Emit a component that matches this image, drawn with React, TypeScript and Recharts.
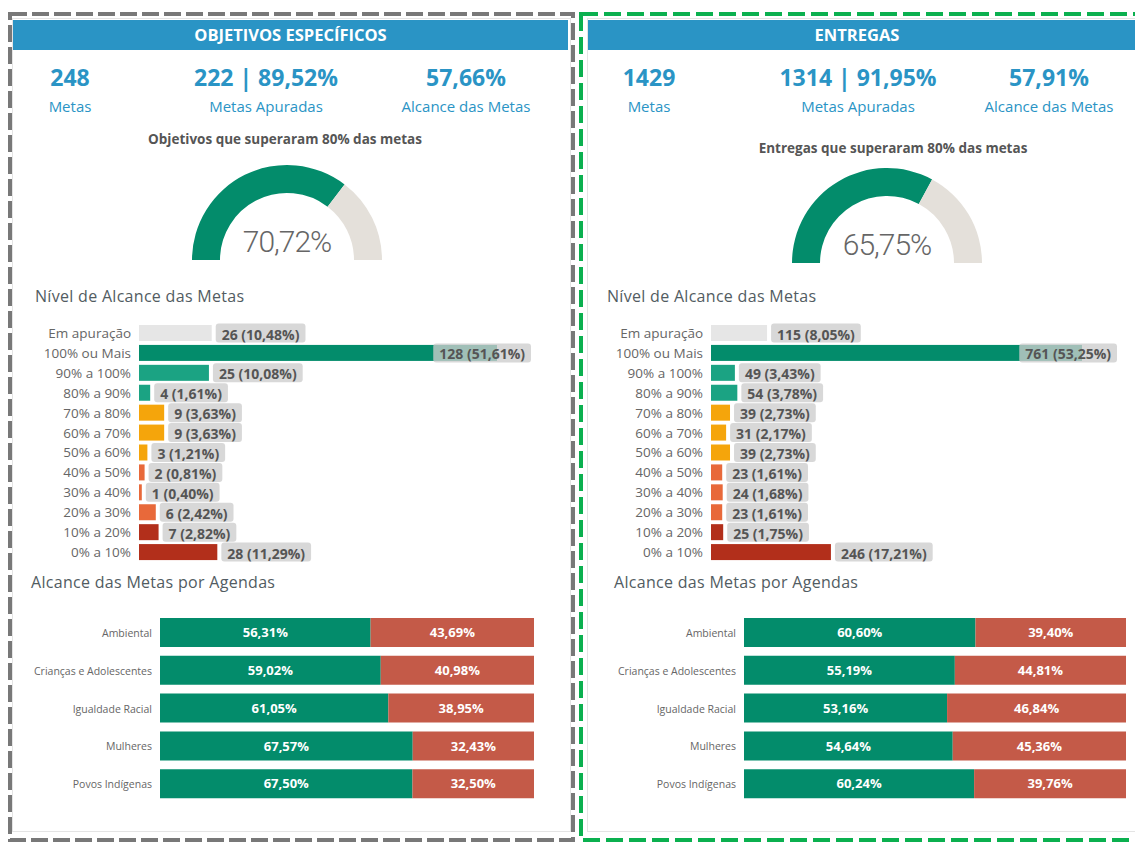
import React from 'react';
import { BarChart, Bar, XAxis, YAxis, Cell, PieChart, Pie, LabelList } from 'recharts';

// níveis de alcance (mesma ordem nos dois painéis)
const levelCategories = [
  'Em apuração', '100% ou Mais', '90% a 100%', '80% a 90%', '70% a 80%', '60% a 70%',
  '50% a 60%', '40% a 50%', '30% a 40%', '20% a 30%', '10% a 20%', '0% a 10%',
];
const levelColors = [
  '#E6E6E6', '#038C6B', '#1BA383', '#1BA383', '#F5A50B', '#F5A50B',
  '#F5A50B', '#E8693A', '#E8693A', '#E8693A', '#B22F1B', '#B22F1B',
];

const objetivosCounts = [26, 128, 25, 4, 9, 9, 3, 2, 1, 6, 7, 28];
const objetivosPct = [10.48, 51.61, 10.08, 1.61, 3.63, 3.63, 1.21, 0.81, 0.4, 2.42, 2.82, 11.29];
const entregasCounts = [115, 761, 49, 54, 39, 31, 39, 23, 24, 23, 25, 246];
const entregasPct = [8.05, 53.25, 3.43, 3.78, 2.73, 2.17, 2.73, 1.61, 1.68, 1.61, 1.75, 17.21];

const agendas = ['Ambiental', 'Crianças e Adolescentes', 'Igualdade Racial', 'Mulheres', 'Povos Indígenas'];
const objetivosAtingido = [56.31, 59.02, 61.05, 67.57, 67.5];
const objetivosNaoAtingido = [43.69, 40.98, 38.95, 32.43, 32.5];
const entregasAtingido = [60.6, 55.19, 53.16, 54.64, 60.24];
const entregasNaoAtingido = [39.4, 44.81, 46.84, 45.36, 39.76];

const objetivosKpi = { metas: 248, apuradas: 222, apuradasPct: 89.52, alcance: 57.66, acima80: 70.72 };
const entregasKpi = { metas: 1429, apuradas: 1314, apuradasPct: 91.95, alcance: 57.91, acima80: 65.75 };

const GREEN = '#038C6B';
const RED = '#C45A48';
const BLUE = '#2A94C5';
const FONT = '"Open Sans", "Noto Sans", sans-serif';
const LABEL_FONT = `700 14px ${FONT}`;

const fmt = (v: number) => v.toFixed(2).replace('.', ',');

let ctx: CanvasRenderingContext2D | null = null;
function textWidth(s: string, font: string) {
  if (!ctx) ctx = document.createElement('canvas').getContext('2d');
  if (!ctx) return s.length * 7.6;
  ctx.font = font;
  return ctx.measureText(s).width;
}

function LevelBar(props: any) {
  const { x, y, width, height, index, payload, limit } = props;
  const label = `${payload.count} (${fmt(payload.pct)}%)`;
  const bw = textWidth(label, LABEL_FONT) + 12;
  let bx = x + width + 4;
  if (bx + bw > limit) bx = limit - bw;
  const cy = y + height / 2;
  return (
    <g>
      <rect x={x} y={y} width={width} height={height} fill={levelColors[index]} />
      <rect x={bx} y={cy - 9.5} width={bw} height={19} rx={3} fill="rgba(205,205,205,0.78)" />
      <text x={bx + 6} y={cy + 1} dominantBaseline="central" fill="#555" style={{ font: LABEL_FONT }}>
        {label}
      </text>
    </g>
  );
}

function AxisTick({ x, y, payload, size }: any) {
  return (
    <text x={x} y={y} textAnchor="end" dominantBaseline="central" fontSize={size} fill="#666" fontFamily={FONT}>
      {payload.value}
    </text>
  );
}

type Layout = {
  cardX: number; cardW: number; headerX: number; headerW: number; headerPad: number;
  kpiX: number[]; gaugeTitleX: number; gaugeTitleY: number; gaugeX: number; gaugeY: number;
  levelTitleX: number; levelLeft: number; levelW: number; levelAxisW: number; levelRight: number;
  levelLimit: number; agendaTitleX: number; agendaLeft: number; agendaW: number;
  agendaAxisW: number; agendaRight: number;
};

const leftLayout: Layout = {
  cardX: 12, cardW: 557, headerX: 13, headerW: 555, headerPad: 0,
  kpiX: [70, 266, 466], gaugeTitleX: 285, gaugeTitleY: 139, gaugeX: 287, gaugeY: 260,
  levelTitleX: 35, levelLeft: 20, levelW: 520, levelAxisW: 119, levelRight: 43, levelLimit: 511,
  agendaTitleX: 31, agendaLeft: 20, agendaW: 520, agendaAxisW: 140, agendaRight: 6,
};
const rightLayout: Layout = {
  cardX: 587, cardW: 560, headerX: 588, headerW: 547, headerPad: 9,
  kpiX: [649, 858, 1049], gaugeTitleX: 893, gaugeTitleY: 148, gaugeX: 887, gaugeY: 263,
  levelTitleX: 607, levelLeft: 600, levelW: 520, levelAxisW: 111, levelRight: 38, levelLimit: 517,
  agendaTitleX: 614, agendaLeft: 600, agendaW: 530, agendaAxisW: 144, agendaRight: 4,
};

function Centered({ x, y, h, style, children }: any) {
  return (
    <div style={{ position: 'absolute', left: x - 150, top: y - h / 2, width: 300, height: h, lineHeight: `${h}px`, textAlign: 'center', whiteSpace: 'nowrap', ...style }}>
      {children}
    </div>
  );
}

function Panel({ title, gaugeTitle, kpi, counts, pcts, ok, notOk, L }: any) {
  const lay: Layout = L;
  const levelRows = levelCategories.map((name, i) => ({ name, count: counts[i], pct: pcts[i] }));
  const agendaRows = agendas.map((name, i) => ({ name, ok: ok[i], no: notOk[i] }));
  const maxCount = Math.max(...counts);
  const kpis = [
    { v: `${kpi.metas}`, l: 'Metas' },
    { v: `${kpi.apuradas} | ${fmt(kpi.apuradasPct)}%`, l: 'Metas Apuradas' },
    { v: `${fmt(kpi.alcance)}%`, l: 'Alcance das Metas' },
  ];
  const sectionTitle = { position: 'absolute' as const, fontSize: 16, color: '#525C62', letterSpacing: 0.3, whiteSpace: 'nowrap' as const };
  return (
    <>
      <div style={{ position: 'absolute', left: lay.cardX, top: 18, width: lay.cardW, height: 812, border: '1px solid #E4E4E4', background: '#fff' }} />
      <div style={{ position: 'absolute', left: lay.headerX, top: 20, width: lay.headerW - lay.headerPad, paddingRight: lay.headerPad, height: 30, lineHeight: '30px', background: BLUE, color: '#fff', fontWeight: 700, fontSize: 16.5, textAlign: 'center' }}>
        {title}
      </div>
      {kpis.map((k, i) => (
        <React.Fragment key={k.l}>
          <Centered x={lay.kpiX[i]} y={77} h={30} style={{ color: BLUE, fontWeight: 700, fontSize: 23 }}>{k.v}</Centered>
          <Centered x={lay.kpiX[i]} y={106} h={20} style={{ color: BLUE, fontSize: 15 }}>{k.l}</Centered>
        </React.Fragment>
      ))}
      <Centered x={lay.gaugeTitleX} y={lay.gaugeTitleY} h={18} style={{ color: '#555', fontWeight: 700, fontSize: 13.5 }}>{gaugeTitle}</Centered>
      <div style={{ position: 'absolute', left: lay.gaugeX - 110, top: lay.gaugeY - 100 }}>
        <PieChart width={220} height={102} margin={{ top: 0, right: 0, bottom: 0, left: 0 }}>
          <Pie data={[{ v: kpi.acima80 }, { v: 100 - kpi.acima80 }]} dataKey="v" cx={110} cy={100} startAngle={180} endAngle={0} innerRadius={67} outerRadius={95} stroke="none" isAnimationActive={false}>
            <Cell fill={GREEN} />
            <Cell fill="#E4E0DA" />
          </Pie>
        </PieChart>
      </div>
      <Centered x={lay.gaugeX} y={lay.gaugeY - 18} h={36} style={{ color: '#666', fontSize: 30, fontWeight: 300, fontFamily: 'Roboto, sans-serif', letterSpacing: -1 }}>
        {fmt(kpi.acima80)}%
      </Centered>

      <div style={{ ...sectionTitle, left: lay.levelTitleX, top: 285 }}>Nível de Alcance das Metas</div>
      <div style={{ position: 'absolute', left: lay.levelLeft, top: 323 }}>
        <BarChart layout="vertical" width={lay.levelW} height={239} data={levelRows} margin={{ top: 0, right: lay.levelRight, bottom: 0, left: 0 }} barSize={16}>
          <XAxis type="number" domain={[0, maxCount]} hide />
          <YAxis type="category" dataKey="name" width={lay.levelAxisW} interval={0} tickLine={false} axisLine={false} tickSize={0} tickMargin={8} tick={<AxisTick size={13.5} />} />
          <Bar dataKey="count" isAnimationActive={false} shape={(p: any) => <LevelBar {...p} limit={lay.levelLimit} />} />
        </BarChart>
      </div>

      <div style={{ ...sectionTitle, left: lay.agendaTitleX, top: 571 }}>Alcance das Metas por Agendas</div>
      <div style={{ position: 'absolute', left: lay.agendaLeft, top: 614 }}>
        <BarChart layout="vertical" width={lay.agendaW} height={189} data={agendaRows} margin={{ top: 0, right: lay.agendaRight, bottom: 0, left: 0 }} barSize={29}>
          <XAxis type="number" domain={[0, 100]} hide />
          <YAxis type="category" dataKey="name" width={lay.agendaAxisW} interval={0} tickLine={false} axisLine={false} tickSize={0} tickMargin={8} tick={<AxisTick size={10.5} />} />
          <Bar dataKey="ok" stackId="a" fill={GREEN} isAnimationActive={false}>
            <LabelList dataKey="ok" position="center" formatter={(v: any) => `${fmt(Number(v))}%`} fill="#fff" fontSize={13} fontWeight={700} fontFamily={FONT} />
          </Bar>
          <Bar dataKey="no" stackId="a" fill={RED} isAnimationActive={false}>
            <LabelList dataKey="no" position="center" formatter={(v: any) => `${fmt(Number(v))}%`} fill="#fff" fontSize={13} fontWeight={700} fontFamily={FONT} />
          </Bar>
        </BarChart>
      </div>
    </>
  );
}

export default function App() {
  return (
    <div style={{ position: 'absolute', left: 0, top: 0, width: 1135, height: 842, overflow: 'hidden', background: '#fff', fontFamily: FONT }}>
      <Panel title="OBJETIVOS ESPECÍFICOS" gaugeTitle="Objetivos que superaram 80% das metas" kpi={objetivosKpi}
        counts={objetivosCounts} pcts={objetivosPct} ok={objetivosAtingido} notOk={objetivosNaoAtingido} L={leftLayout} />
      <Panel title="ENTREGAS" gaugeTitle="Entregas que superaram 80% das metas" kpi={entregasKpi}
        counts={entregasCounts} pcts={entregasPct} ok={entregasAtingido} notOk={entregasNaoAtingido} L={rightLayout} />
      <svg width={1135} height={842} style={{ position: 'absolute', left: 0, top: 0, pointerEvents: 'none' }}>
        <rect x={10} y={14} width={563} height={826} fill="none" stroke="#787878" strokeWidth={4} strokeDasharray="17 5" />
        <rect x={581} y={14} width={620} height={826} fill="none" stroke="#0BB04F" strokeWidth={4} strokeDasharray="17 6" />
      </svg>
    </div>
  );
}
